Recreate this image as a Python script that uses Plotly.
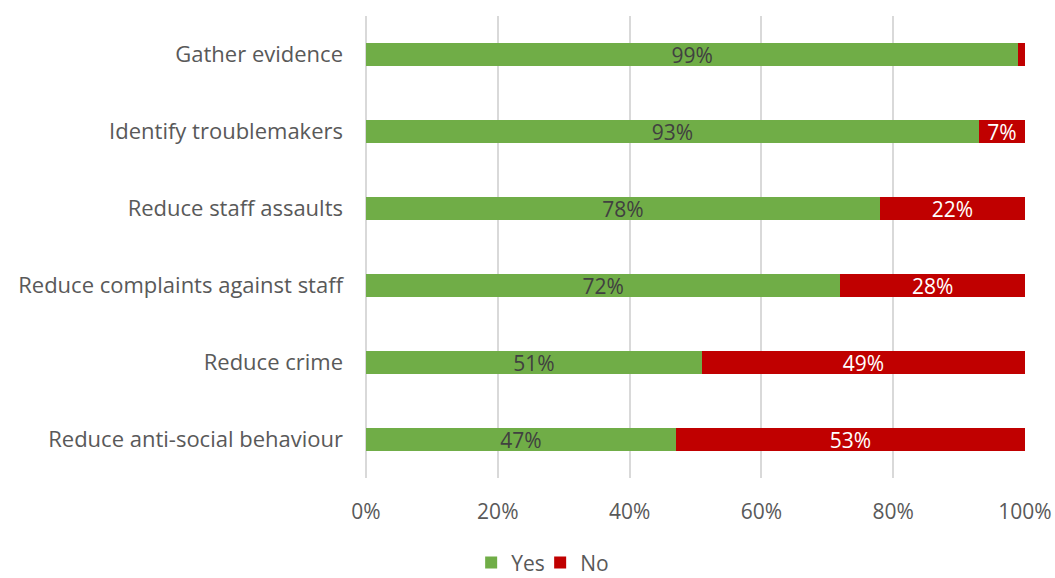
import plotly.graph_objects as go

# Survey: perceived purposes of body-worn cameras (percent of respondents)
categories = [
    "Reduce anti-social behaviour",
    "Reduce crime",
    "Reduce complaints against staff",
    "Reduce staff assaults",
    "Identify troublemakers",
    "Gather evidence",
]
yes_values = [47, 51, 72, 78, 93, 99]
no_values = [53, 49, 28, 22, 7, 1]
x_ticks = [0, 20, 40, 60, 80, 100]
x_tick_labels = [f"{t}%" for t in x_ticks]

FONT = "'Open Sans', 'Noto Sans', sans-serif"
GREEN = "#70ad47"
RED = "#c00000"
TEXT = "#595959"


def labels(values, min_shown=5):
    # very thin segments carry no label
    return [f"{v}%" if v >= min_shown else "" for v in values]


fig = go.Figure()
fig.add_trace(go.Bar(
    name="Yes", y=categories, x=yes_values, orientation="h",
    marker=dict(color=GREEN, line=dict(width=0)),
    text=labels(yes_values), textposition="inside", insidetextanchor="middle",
    constraintext="none",
    textfont=dict(family=FONT, size=21, color="#404040"),
    hoverinfo="skip",
))
fig.add_trace(go.Bar(
    name="No", y=categories, x=no_values, orientation="h",
    marker=dict(color=RED, line=dict(width=0)),
    text=labels(no_values), textposition="inside", insidetextanchor="middle",
    constraintext="none",
    textfont=dict(family=FONT, size=21, color="#ffffff"),
    hoverinfo="skip",
))

fig.update_layout(
    barmode="stack",
    bargap=0.69,
    width=1055, height=578,
    margin=dict(l=366, r=30, t=16, b=100),
    paper_bgcolor="white", plot_bgcolor="white",
    font=dict(family=FONT, size=21, color=TEXT),
    showlegend=True,
    legend=dict(
        orientation="h", xref="container", yref="container",
        x=0.512, y=0.026, xanchor="center", yanchor="middle",
        traceorder="normal",
        font=dict(family=FONT, size=21, color=TEXT),
        itemwidth=30, tracegroupgap=0,
        entrywidth=24, entrywidthmode="pixels",
    ),
    xaxis=dict(
        range=[0, 100], tickvals=x_ticks, ticktext=x_tick_labels,
        showgrid=True, gridcolor="#d9d9d9", gridwidth=2,
        zeroline=True, zerolinecolor="#d9d9d9", zerolinewidth=2,
        showline=False, ticks="", automargin=False,
        tickfont=dict(family=FONT, size=21, color=TEXT),
        ticklabelstandoff=19,
    ),
    yaxis=dict(
        showgrid=False, zeroline=False, showline=False, ticks="",
        automargin=False,
        tickfont=dict(family=FONT, size=22, color=TEXT),
        ticklabelstandoff=22,
    ),
)

fig.write_html("out.html")
